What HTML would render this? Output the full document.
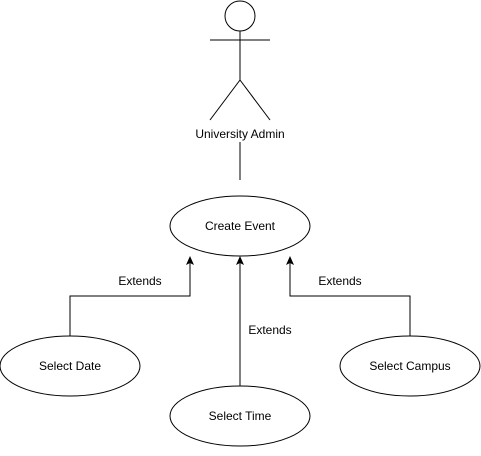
<!DOCTYPE html>
<html><head><style>body{margin:0;background:#fff}</style></head><body>
<svg width="481" height="451" xmlns="http://www.w3.org/2000/svg" font-family="Liberation Sans, sans-serif" font-size="12">
<rect width="481" height="451" fill="#fff"/>
<g stroke="#000" stroke-width="1" fill="none">
<circle cx="240" cy="16" r="15" fill="#fff"/>
<line x1="240" y1="31" x2="240" y2="80"/>
<line x1="210" y1="40" x2="270" y2="40"/>
<line x1="240" y1="80" x2="210" y2="120"/>
<line x1="240" y1="80" x2="270" y2="120"/>
<line x1="240" y1="142" x2="240" y2="180"/>
<ellipse cx="240" cy="226" rx="70" ry="30" fill="#fff"/>
<ellipse cx="70" cy="366" rx="70" ry="30" fill="#fff"/>
<ellipse cx="410" cy="366" rx="70" ry="30" fill="#fff"/>
<ellipse cx="240" cy="416" rx="70" ry="30" fill="#fff"/>
<polyline points="70,336 70,296 190,296 190,263"/>
<polyline points="410,336 410,296 290,296 290,263"/>
<line x1="240" y1="386" x2="240" y2="263"/>
</g>
<g fill="#000">
<path d="M190,256 l-4,9 l4,-2 l4,2z"/>
<path d="M290,256 l-4,9 l4,-2 l4,2z"/>
<path d="M240,256 l-4,9 l4,-2 l4,2z"/>
</g>
<g text-anchor="middle" fill="#000">
<text x="240" y="138">University Admin</text>
<text x="240" y="230">Create Event</text>
<text x="70" y="370">Select Date</text>
<text x="410" y="370">Select Campus</text>
<text x="240" y="420">Select Time</text>
<text x="140" y="285">Extends</text>
<text x="340" y="285">Extends</text>
<text x="270" y="334">Extends</text>
</g>
</svg>
</body></html>
